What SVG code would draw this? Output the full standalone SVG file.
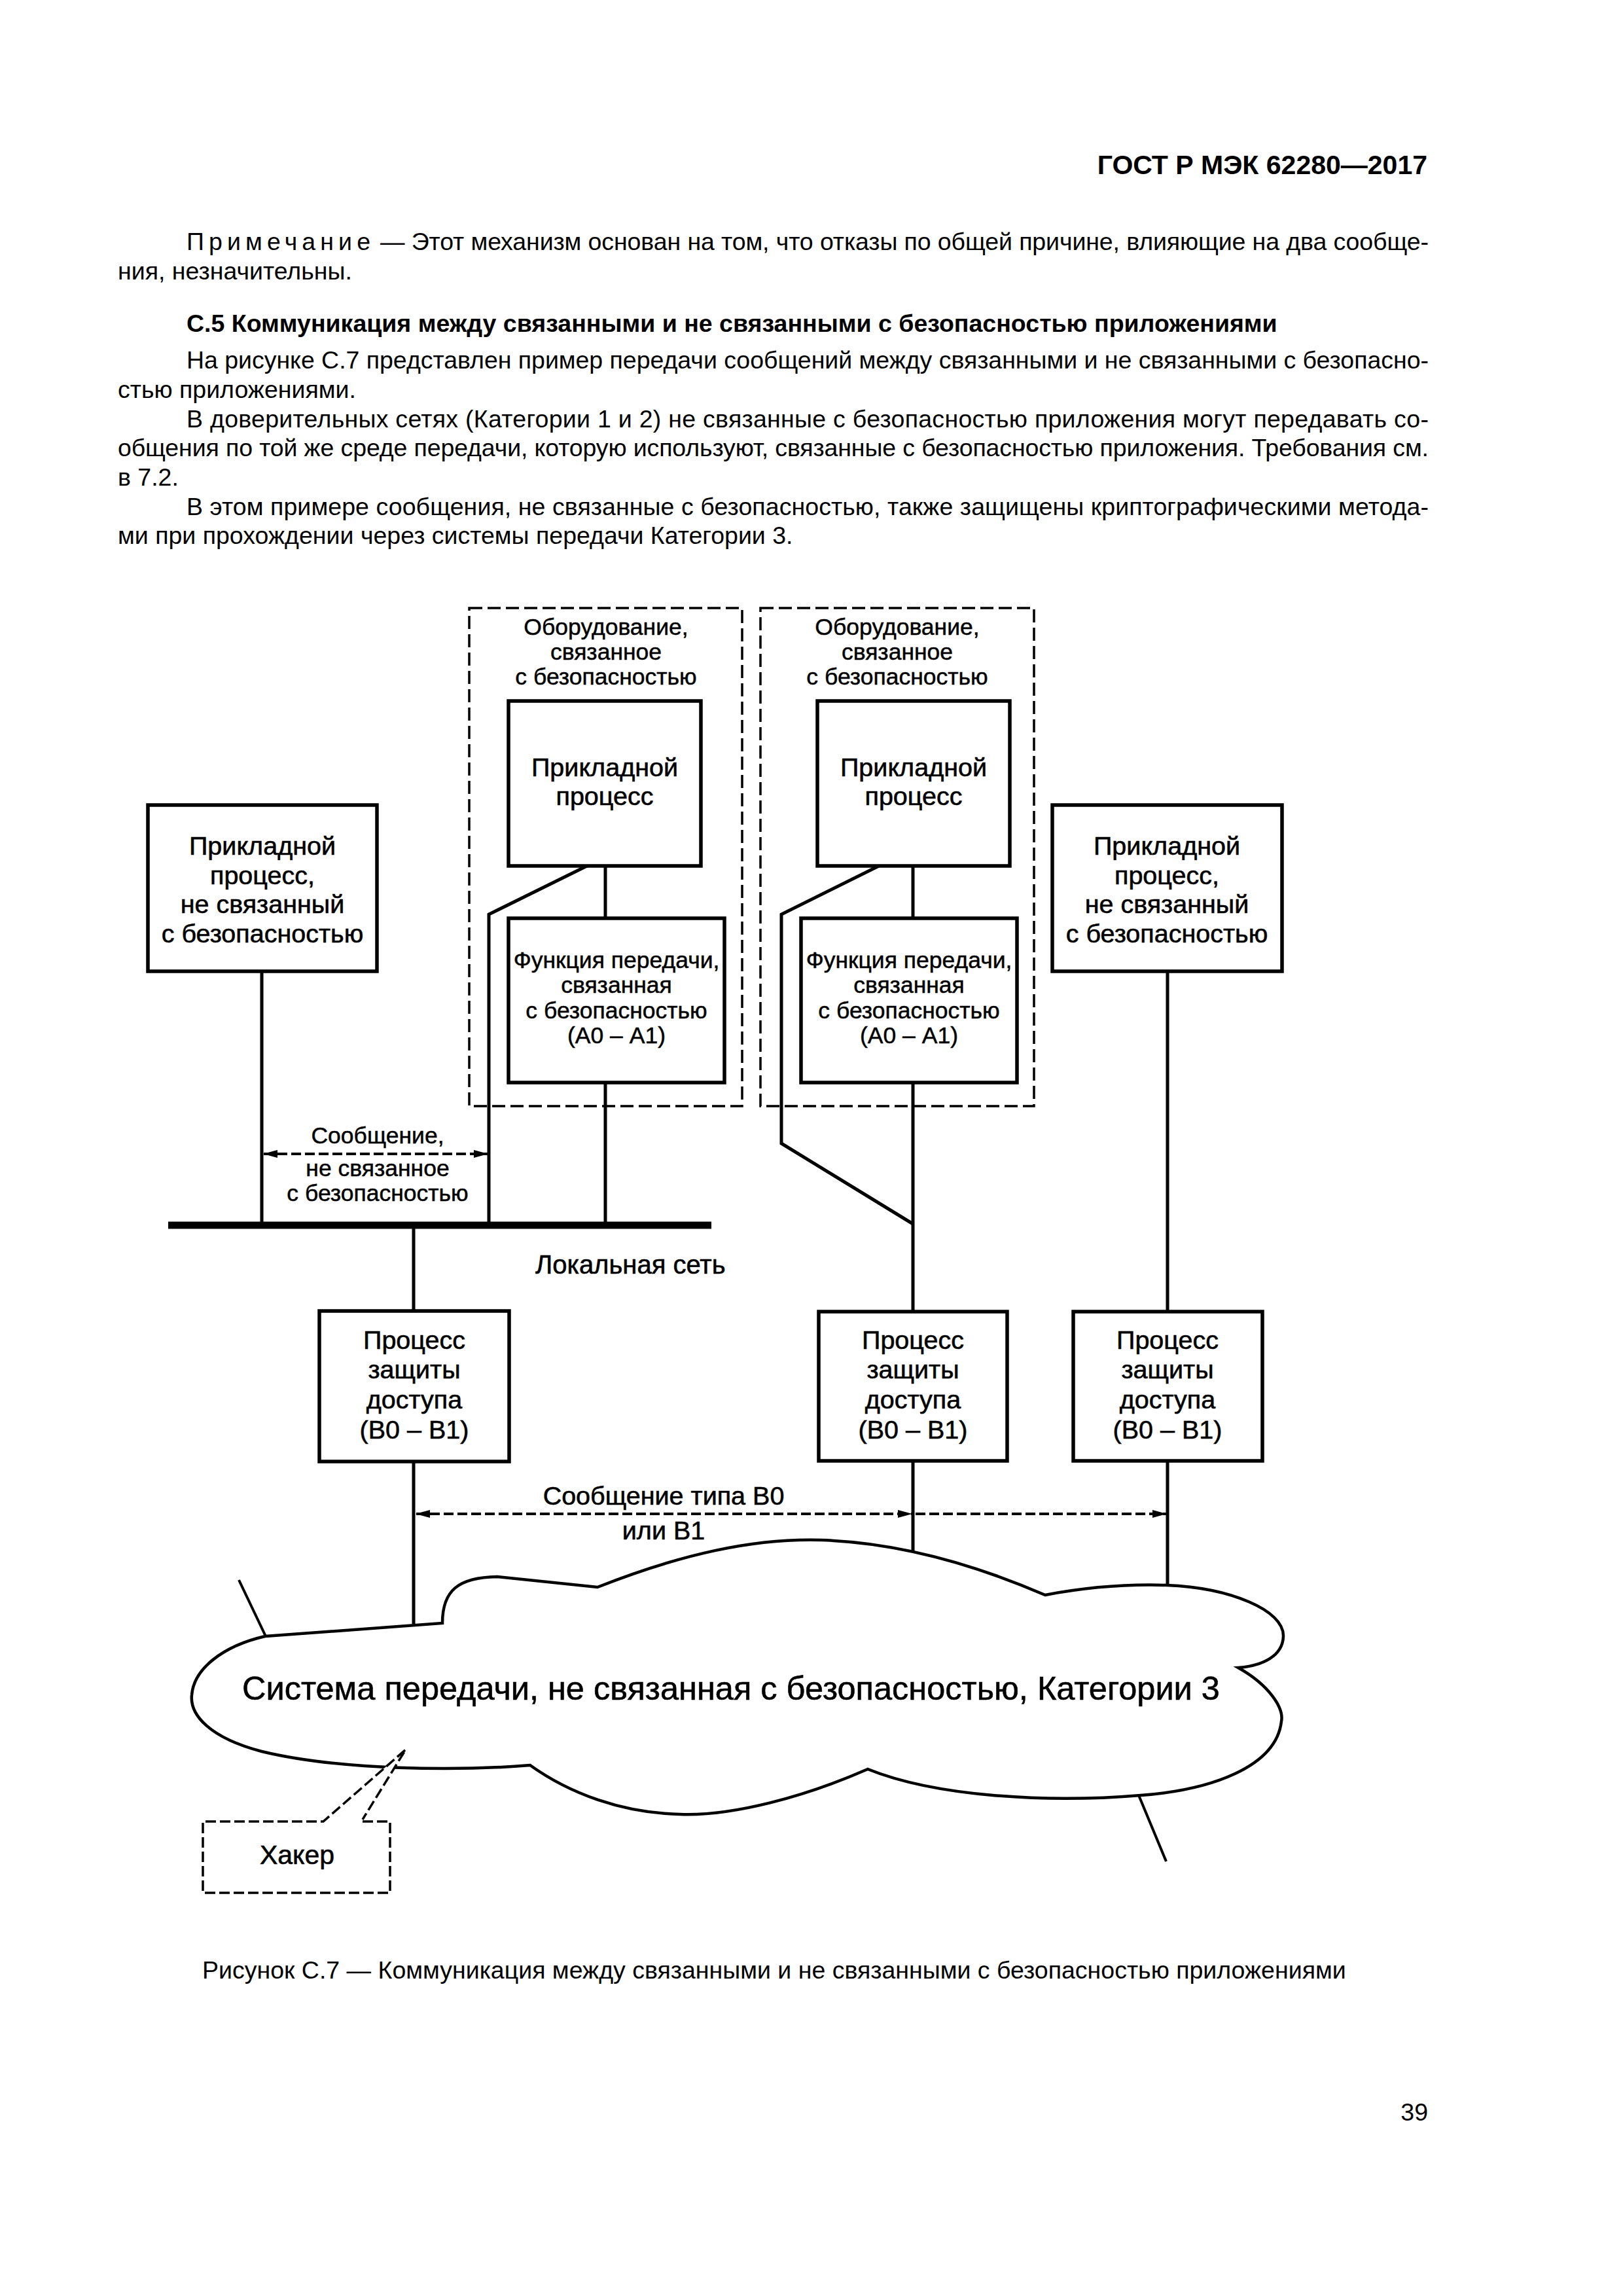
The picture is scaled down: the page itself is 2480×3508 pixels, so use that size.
<svg xmlns="http://www.w3.org/2000/svg" width="2480" height="3508" viewBox="0 0 2480 3508">
<style>
text{font-family:"Liberation Sans",Arial,sans-serif;fill:#000}
.body{font-size:37.5px}
.bold{font-weight:bold}
.lbl{font-size:39.5px;text-anchor:middle;stroke:#000;stroke-width:0.6}
.sm{font-size:35.5px;text-anchor:middle;stroke:#000;stroke-width:0.5}
.dg{stroke:#000;stroke-width:0.6}
.box{fill:#fff;stroke:#000;stroke-width:5.5}
.dbox{fill:none;stroke:#000;stroke-width:3.5;stroke-dasharray:20 8}
.ln{fill:none;stroke:#000;stroke-width:5;stroke-linejoin:miter}
.thin{fill:none;stroke:#000;stroke-width:4}
.arr{fill:none;stroke:#000;stroke-width:4;stroke-dasharray:15 6}
</style>
<defs>
<marker id="ah" markerUnits="userSpaceOnUse" markerWidth="22" markerHeight="12" refX="21" refY="6" orient="auto-start-reverse">
<path d="M0,0 L22,6 L0,12 Z" fill="#000"/>
</marker>
</defs>
<rect width="2480" height="3508" fill="#fff"/>

<g id="page-text">
<text class="bold" x="2181" y="266" font-size="41" text-anchor="end">ГОСТ Р МЭК 62280—2017</text>
<text class="body" x="285" y="382" textLength="281" lengthAdjust="spacing">Примечание</text>
<text class="body" x="581" y="382" textLength="1602" lengthAdjust="spacing">— Этот механизм основан на том, что отказы по общей причине, влияющие на два сообще-</text>
<text class="body" x="180" y="427">ния, незначительны.</text>
<text class="body bold" x="285" y="507">С.5 Коммуникация между связанными и не связанными с безопасностью приложениями</text>
<text class="body" x="285" y="563" textLength="1898" lengthAdjust="spacing">На рисунке С.7 представлен пример передачи сообщений между связанными и не связанными с безопасно-</text>
<text class="body" x="180" y="608">стью приложениями.</text>
<text class="body" x="285" y="653" textLength="1898" lengthAdjust="spacing">В доверительных сетях (Категории 1 и 2) не связанные с безопасностью приложения могут передавать со-</text>
<text class="body" x="180" y="697" textLength="2003" lengthAdjust="spacing">общения по той же среде передачи, которую используют, связанные с безопасностью приложения. Требования см.</text>
<text class="body" x="180" y="742">в 7.2.</text>
<text class="body" x="285" y="787" textLength="1898" lengthAdjust="spacing">В этом примере сообщения, не связанные с безопасностью, также защищены криптографическими метода-</text>
<text class="body" x="180" y="831">ми при прохождении через системы передачи Категории 3.</text>
<text class="body" x="309" y="3023">Рисунок С.7 — Коммуникация между связанными и не связанными с безопасностью приложениями</text>
<text class="body" x="2182" y="3240" text-anchor="end">39</text>
</g>

<g id="connectors">
<line class="ln" x1="257" y1="1872" x2="1087" y2="1872" style="stroke-width:11"/>
<line class="ln" x1="400" y1="1484" x2="400" y2="1872"/>
<polyline class="ln" points="897,1323 747,1397 747,1872"/>
<line class="ln" x1="925" y1="1323" x2="925" y2="1403"/>
<line class="ln" x1="925" y1="1654" x2="925" y2="1872"/>
<polyline class="ln" points="1343,1323 1194,1397 1194,1747 1395,1870"/>
<line class="ln" x1="1395" y1="1323" x2="1395" y2="1403"/>
<line class="ln" x1="1395" y1="1654" x2="1395" y2="2004"/>
<line class="ln" x1="1784" y1="1484" x2="1784" y2="2004"/>
<line class="ln" x1="632" y1="1872" x2="632" y2="2003"/>
<line class="ln" x1="632" y1="2233" x2="632" y2="2481"/>
<line class="ln" x1="1395" y1="2232" x2="1395" y2="2370"/>
<line class="ln" x1="1784" y1="2232" x2="1784" y2="2422"/>
<line class="thin" x1="365" y1="2414" x2="406" y2="2500"/>
<line class="thin" x1="1740" y1="2743" x2="1782" y2="2844"/>
<path class="arr" d="M403,1763 L745,1763" marker-start="url(#ah)" marker-end="url(#ah)"/>
<path class="arr" d="M636,2313 L1393,2313" marker-start="url(#ah)" marker-end="url(#ah)"/>
<path class="arr" d="M1399,2313 L1782,2313" marker-end="url(#ah)"/>
<text class="sm" x="577" y="1747" font-size="36">Сообщение,</text>
<text class="sm" x="577" y="1797">не связанное</text>
<text class="sm" x="577" y="1835">с безопасностью</text>
<text class="dg" x="1014" y="2299" font-size="39.5" text-anchor="middle">Сообщение типа В0</text>
<text class="dg" x="1014" y="2352" font-size="39.5" text-anchor="middle">или В1</text>
</g>

<g id="lan-label">
<text class="dg" x="818" y="1946" font-size="40">Локальная сеть</text>
</g>

<g id="equip1">
<rect class="dbox" x="717" y="929" width="417" height="761"/>
<text class="sm" x="926" y="970">Оборудование,</text>
<text class="sm" x="926" y="1008">связанное</text>
<text class="sm" x="926" y="1046">с безопасностью</text>
</g>
<g id="equip2">
<rect class="dbox" x="1162" y="929" width="418" height="761"/>
<text class="sm" x="1371" y="970">Оборудование,</text>
<text class="sm" x="1371" y="1008">связанное</text>
<text class="sm" x="1371" y="1046">с безопасностью</text>
</g>

<g id="app-left">
<rect class="box" x="226" y="1230" width="350" height="254"/>
<text class="lbl" x="401" y="1306">Прикладной</text>
<text class="lbl" x="401" y="1351">процесс,</text>
<text class="lbl" x="401" y="1395">не связанный</text>
<text class="lbl" x="401" y="1440">с безопасностью</text>
</g>
<g id="app-right">
<rect class="box" x="1608" y="1230" width="351" height="254"/>
<text class="lbl" x="1783" y="1306">Прикладной</text>
<text class="lbl" x="1783" y="1351">процесс,</text>
<text class="lbl" x="1783" y="1395">не связанный</text>
<text class="lbl" x="1783" y="1440">с безопасностью</text>
</g>
<g id="app-safe1">
<rect class="box" x="777" y="1071" width="294" height="252"/>
<text class="lbl" x="924" y="1186">Прикладной</text>
<text class="lbl" x="924" y="1230">процесс</text>
</g>
<g id="app-safe2">
<rect class="box" x="1249" y="1071" width="294" height="252"/>
<text class="lbl" x="1396" y="1186">Прикладной</text>
<text class="lbl" x="1396" y="1230">процесс</text>
</g>
<g id="func1">
<rect class="box" x="777" y="1403" width="330" height="251"/>
<text class="sm" x="942" y="1479">Функция передачи,</text>
<text class="sm" x="942" y="1517">связанная</text>
<text class="sm" x="942" y="1556">с безопасностью</text>
<text class="sm" x="942" y="1594">(А0 – А1)</text>
</g>
<g id="func2">
<rect class="box" x="1224" y="1403" width="330" height="251"/>
<text class="sm" x="1389" y="1479">Функция передачи,</text>
<text class="sm" x="1389" y="1517">связанная</text>
<text class="sm" x="1389" y="1556">с безопасностью</text>
<text class="sm" x="1389" y="1594">(А0 – А1)</text>
</g>
<g id="access1">
<rect class="box" x="488" y="2003" width="290" height="230"/>
<text class="lbl" x="633" y="2061" font-size="40">Процесс</text>
<text class="lbl" x="633" y="2106" font-size="40">защиты</text>
<text class="lbl" x="633" y="2152" font-size="40">доступа</text>
<text class="lbl" x="633" y="2198" font-size="40">(В0 – В1)</text>
</g>
<g id="access2">
<rect class="box" x="1251" y="2004" width="288" height="228"/>
<text class="lbl" x="1395" y="2061" font-size="40">Процесс</text>
<text class="lbl" x="1395" y="2106" font-size="40">защиты</text>
<text class="lbl" x="1395" y="2152" font-size="40">доступа</text>
<text class="lbl" x="1395" y="2198" font-size="40">(В0 – В1)</text>
</g>
<g id="access3">
<rect class="box" x="1640" y="2004" width="289" height="228"/>
<text class="lbl" x="1784" y="2061" font-size="40">Процесс</text>
<text class="lbl" x="1784" y="2106" font-size="40">защиты</text>
<text class="lbl" x="1784" y="2152" font-size="40">доступа</text>
<text class="lbl" x="1784" y="2198" font-size="40">(В0 – В1)</text>
</g>

<g id="cloud">
<path fill="#fff" stroke="#000" stroke-width="4.5" stroke-linejoin="miter" d="M676,2480 C676,2430 700,2410 760,2409 L913,2425 C1040,2375 1150,2350 1255,2353 C1380,2357 1500,2395 1597,2437 C1660,2425 1720,2420 1783,2422 C1880,2426 1962,2460 1961,2500 C1960,2530 1930,2545 1892,2548 C1940,2575 1962,2610 1958,2630 C1950,2700 1850,2735 1743,2743 C1600,2755 1430,2745 1326,2703 C1230,2745 1120,2775 1039,2772 C950,2770 870,2740 810,2697 C700,2706 520,2705 400,2676 C320,2655 290,2620 293,2590 C296,2550 340,2515 405,2500 L676,2480 Z"/>
<text class="dg" x="1117" y="2597" font-size="50.5" text-anchor="middle">Система передачи, не связанная с безопасностью, Категории 3</text>
</g>

<g id="hacker">
<path fill="#fff" stroke="#000" stroke-width="3.5" stroke-dasharray="16 6" d="M554,2783 L596,2783 L596,2892 L310,2892 L310,2783 L494,2783 L620,2673 L554,2780"/>
<text class="dg" x="454" y="2848" font-size="41" text-anchor="middle">Хакер</text>
</g>
</svg>
